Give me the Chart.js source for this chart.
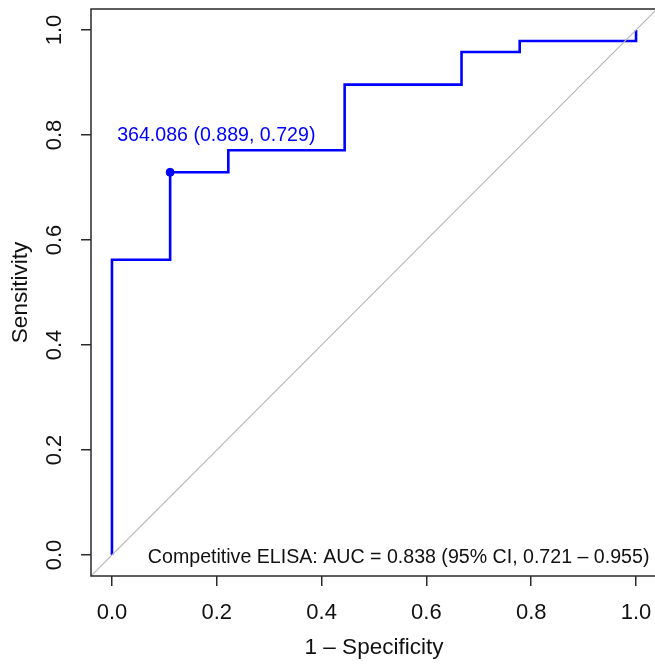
<!DOCTYPE html>
<html>
<head>
<meta charset="utf-8">
<script src="https://cdn.jsdelivr.net/npm/chart.js@4.4.1/dist/chart.umd.min.js"></script>
<style>
  body { margin: 0; background: #fff; overflow: hidden; }
  .wrap { width: 662px; height: 667px; }
</style>
</head>
<body>
<div class="wrap"><canvas id="roc"></canvas></div>
<script>
// ROC curve values (x = 1 - specificity)
const fpr = [0, 0, 0.111, 0.222, 0.444, 0.667, 0.778, 1.0];
const sensitivity = [0, 0.5625, 0.729, 0.771, 0.896, 0.958, 0.979, 1.0];

// best threshold marked on the curve
const bestThreshold = 364.086;
const bestSpecificity = 0.889;
const bestSensitivity = 0.729;

const aucText = "Competitive ELISA: AUC = 0.838 (95% CI, 0.721 \u2013 0.955)";

const axisLimits = [-0.04, 1.04];
const tickValues = [0, 0.2, 0.4, 0.6, 0.8, 1.0];

const FONT = "'Liberation Sans', Arial, Helvetica, sans-serif";
const BLUE = "#0000ff";
const AXIS = "#2a2a2a";

const boxAndText = {
  id: "boxAndText",
  afterDatasetsDraw(chart) {
    const { ctx, chartArea, scales } = chart;
    const { x, y } = scales;
    ctx.save();
    ctx.strokeStyle = AXIS;
    ctx.lineWidth = 1.5;
    ctx.strokeRect(chartArea.left, chartArea.top, chartArea.right - chartArea.left, chartArea.bottom - chartArea.top);

    // threshold label
    const px = x.getPixelForValue(1 - bestSpecificity);
    const py = y.getPixelForValue(bestSensitivity);
    ctx.fillStyle = BLUE;
    ctx.font = "19.6px " + FONT;
    ctx.textAlign = "left";
    ctx.textBaseline = "middle";
    ctx.fillText(`${bestThreshold.toFixed(3)} (${bestSpecificity.toFixed(3)}, ${bestSensitivity.toFixed(3)})`, px - 53, py - 37);

    // AUC label
    ctx.fillStyle = "#111";
    ctx.font = "19.6px " + FONT;
    ctx.textAlign = "center";
    ctx.fillText(aucText, x.getPixelForValue(0.547), y.getPixelForValue(0) + 3);
    ctx.restore();
  },
};

const setTicks = (scale) => {
  scale.ticks = tickValues.map((v) => ({ value: v }));
};

new Chart(document.getElementById("roc"), {
  type: "scatter",
  data: {
    datasets: [
      {
        // chance diagonal
        data: axisLimits.map((v) => ({ x: v, y: v })),
        showLine: true,
        borderColor: "#b8b8b8",
        borderWidth: 1.2,
        pointRadius: 0,
      },
      {
        data: fpr.map((v, i) => ({ x: v, y: sensitivity[i] })),
        showLine: true,
        stepped: "before",
        borderColor: BLUE,
        borderWidth: 2.6,
        pointRadius: 0,
      },
      {
        data: [{ x: 1 - bestSpecificity, y: bestSensitivity }],
        pointRadius: 4,
        pointBackgroundColor: BLUE,
        pointBorderColor: BLUE,
      },
    ],
  },
  options: {
    responsive: true,
    maintainAspectRatio: false,
    animation: false,
    layout: { padding: { left: 0, top: 9, right: 4, bottom: 0 } },
    plugins: { legend: { display: false }, tooltip: { enabled: false } },
    scales: {
      x: {
        type: "linear",
        min: axisLimits[0],
        max: axisLimits[1],
        afterBuildTicks: setTicks,
        afterFit: (s) => { s.height = 91; s.paddingLeft = 0; s.paddingRight = 0; },
        border: { display: false },
        grid: { drawOnChartArea: false, drawTicks: true, tickLength: 10, color: AXIS, lineWidth: 1.5 },
        ticks: {
          color: "#111",
          font: { family: FONT, size: 22 },
          padding: 14,
          maxRotation: 0,
          callback: (v) => v.toFixed(1),
        },
        title: {
          display: true,
          text: "1 \u2013 Specificity",
          color: "#111",
          font: { family: FONT, size: 22.5 },
          padding: { top: 0, bottom: 6 },
        },
      },
      y: {
        type: "linear",
        min: axisLimits[0],
        max: axisLimits[1],
        afterBuildTicks: setTicks,
        afterFit: (s) => { s.width = 91; s.paddingTop = 0; s.paddingBottom = 0; },
        border: { display: false },
        grid: { drawOnChartArea: false, drawTicks: true, tickLength: 10, color: AXIS, lineWidth: 1.5 },
        ticks: {
          color: "#111",
          font: { family: FONT, size: 22 },
          padding: 11,
          minRotation: 90,
          maxRotation: 90,
          crossAlign: "center",
          callback: (v) => v.toFixed(1),
        },
        title: {
          display: true,
          text: "Sensitivity",
          color: "#111",
          font: { family: FONT, size: 22.5 },
          padding: { top: 7, bottom: 0 },
        },
      },
    },
  },
  plugins: [boxAndText],
});
</script>
</body>
</html>
